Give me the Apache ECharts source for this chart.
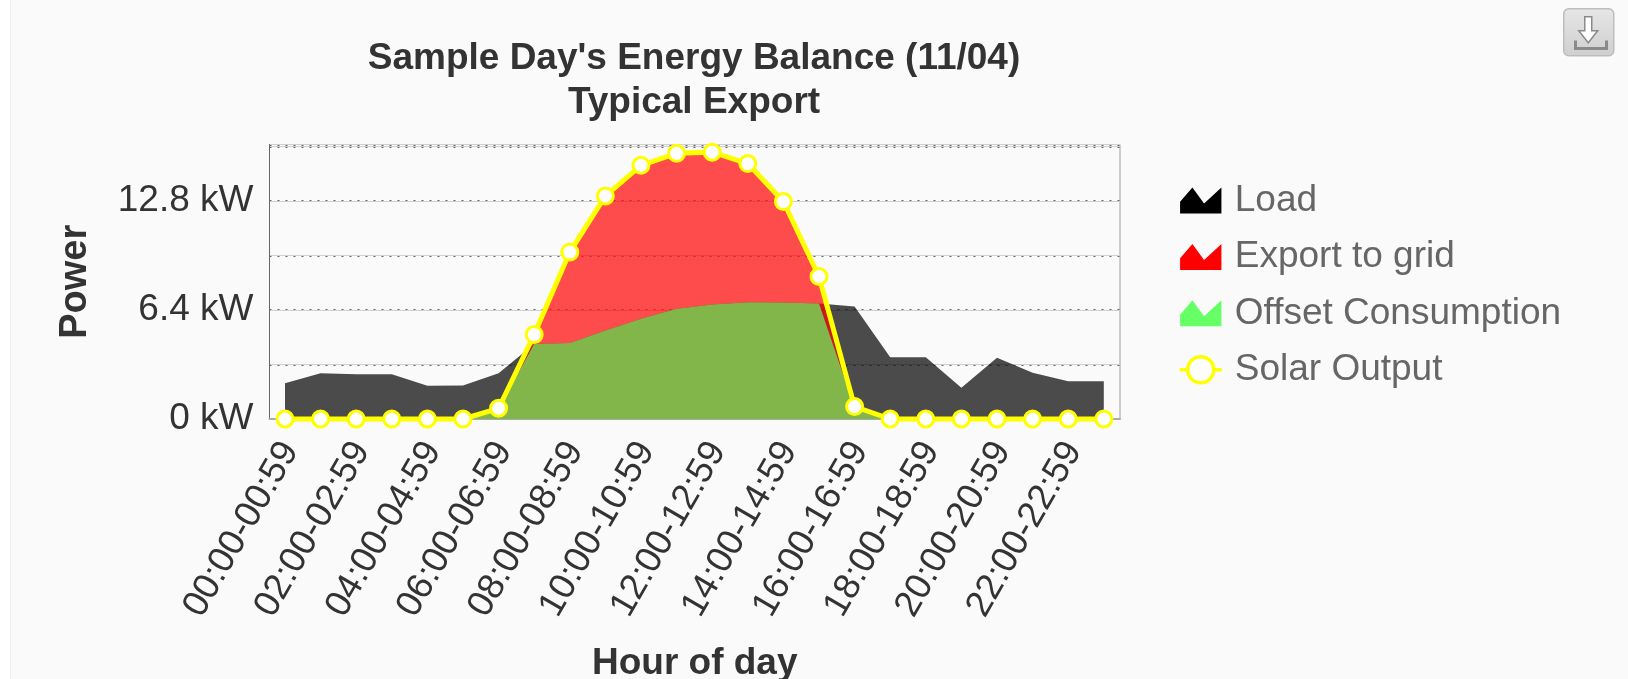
<!DOCTYPE html>
<html><head><meta charset="utf-8">
<script src="https://cdn.jsdelivr.net/npm/echarts@6/dist/echarts.min.js"></script>
<style>
html,body{margin:0;padding:0;background:#fff;width:1628px;height:679px;overflow:hidden}
#bg{position:absolute;left:10px;top:0;right:0;bottom:0;background:#fafafa;border-left:1px solid #eeeeee}
#chart{position:absolute;left:0;top:0;width:1628px;height:679px}
</style></head><body><div id="bg"></div><div id="chart"></div>
<script>
const categories = ["00:00-00:59","01:00-01:59","02:00-02:59","03:00-03:59","04:00-04:59","05:00-05:59","06:00-06:59","07:00-07:59","08:00-08:59","09:00-09:59","10:00-10:59","11:00-11:59","12:00-12:59","13:00-13:59","14:00-14:59","15:00-15:59","16:00-16:59","17:00-17:59","18:00-18:59","19:00-19:59","20:00-20:59","21:00-21:59","22:00-22:59","23:00-23:59"];
const load   = [2.1,2.69,2.63,2.63,1.95,1.97,2.69,4.41,4.47,5.2,5.88,6.47,6.72,6.86,6.84,6.78,6.6,3.63,3.63,1.83,3.59,2.71,2.22,2.22];
const solar  = [0,0,0,0,0,0,0.63,4.96,9.8,13.1,14.9,15.6,15.67,15.0,12.77,8.37,0.73,0,0,0,0,0,0,0];
const offset = [0,0,0,0,0,0,0.6,4.41,4.47,5.2,5.88,6.47,6.72,6.86,6.84,6.78,0.65,0,0,0,0,0,0,0];
const xTickValues = [0,2,4,6,8,10,12,14,16,18,20,22];
const yTickValues = [0,6.4,12.8];
const seriesNames = ["Load","Export to grid","Offset Consumption","Solar Output"];
const titleLines = ["Sample Day's Energy Balance (11/04)","Typical Export"];

const font = "'Liberation Sans', Arial, sans-serif";
const pts = a => a.map((v,i)=>[i,v]);
const icon = 'path://M0,78 L0,43 L37,0 L72,48 L124,0 L124,78 Z';
const solarIcon = 'path://M8,13 A13,13 0 1 1 34,13 A13,13 0 1 1 8,13 Z M0,13 L8,13 Z M34,13 L42,13 Z';
const chart = echarts.init(document.getElementById('chart'));
chart.setOption({
  animation:false,
  title:{text:titleLines.join('\n'),left:689,top:32,textAlign:'center',
    textStyle:{fontFamily:font,fontSize:37,fontWeight:'bold',color:'#333',lineHeight:44}},
  grid:{left:269.5,top:144.5,width:850.5,height:274.5,outerBoundsMode:'none',show:true,borderColor:'#a0a0a0',borderWidth:1,backgroundColor:'transparent'},
  legend:{orient:'vertical',left:1173,top:177,itemWidth:42,itemHeight:26,itemGap:19.4,
    textStyle:{fontFamily:font,fontSize:37,color:'#666',padding:[0,0,0,8]},
    data:[
      {name:seriesNames[0],icon:icon,itemStyle:{color:'#000',opacity:1}},
      {name:seriesNames[1],icon:icon,itemStyle:{color:'#ff0000',opacity:1}},
      {name:seriesNames[2],icon:icon,itemStyle:{color:'#66ff66',opacity:1}},
      {name:seriesNames[3],icon:solarIcon,itemStyle:{color:'#fff',borderColor:'#ffff00',borderWidth:3.5}}
    ]},
  xAxis:{type:'value',min:-0.435,max:23.455,name:'Hour of day',nameLocation:'middle',nameGap:226,
    nameTextStyle:{fontFamily:font,fontSize:37,fontWeight:'bold',color:'#333'},
    axisLine:{show:true,onZero:false,lineStyle:{color:'#aaa',width:2}},axisTick:{show:false},splitLine:{show:false},
    axisLabel:{customValues:xTickValues,rotate:60,margin:23,verticalAlign:'top',lineHeight:12,fontFamily:font,fontSize:36.5,color:'#333',
      formatter:v=>categories[v]||''}},
  yAxis:[{type:'value',min:0,max:16.12,interval:3.2,name:'Power',nameLocation:'middle',nameGap:175,
    nameTextStyle:{fontFamily:font,fontSize:38,fontWeight:'bold',color:'#333'},
    axisLine:{show:true,onZero:false,lineStyle:{color:'#666',width:1}},axisTick:{show:false},
    splitLine:{show:true,lineStyle:{type:[2,6],color:'#666',width:2}},
    axisLabel:{customValues:yTickValues,margin:16,fontFamily:font,fontSize:37,color:'#333',formatter:v=>v+' kW'}},
   {type:'value',min:0,max:16.12,interval:3.2,position:'left',axisLine:{show:false},axisTick:{show:false},axisLabel:{show:false},
    splitLine:{show:true,lineStyle:{type:'solid',color:'#cfcfcf',width:1}}}],
  graphic:[
    {type:'rect',left:1563,top:8,shape:{width:50,height:47,r:5},
      style:{fill:new echarts.graphic.LinearGradient(0,0,0,1,[{offset:0,color:'#e6e6e6'},{offset:1,color:'#cfcfcf'}]),stroke:'#bdbdbd',lineWidth:1.5}},
    {type:'polygon',left:1578,top:16,shape:{points:[[7,0],[14,0],[14,14],[20,14],[10.5,26],[1,14],[7,14]]},
      style:{fill:'#fff',stroke:'#8a8a8a',lineWidth:1.5}},
    {type:'polyline',left:1573,top:38,shape:{points:[[0,0],[0,8],[31,8],[31,0]]},style:{fill:'none',stroke:'#8a8a8a',lineWidth:3}}
  ],
  series:[
    {name:seriesNames[0],type:'line',data:pts(load),symbol:'none',lineStyle:{width:0},areaStyle:{color:'#000',opacity:0.7},itemStyle:{color:'#000'},z:2},
    {name:seriesNames[1],type:'line',data:pts(solar),symbol:'none',lineStyle:{width:0},areaStyle:{color:'#ff0000',opacity:0.7},itemStyle:{color:'#ff0000'},z:3},
    {name:seriesNames[2],type:'line',data:pts(offset),symbol:'none',lineStyle:{width:0},areaStyle:{color:'#82b64a',opacity:1},itemStyle:{color:'#66ff66'},z:4},
    {name:seriesNames[3],type:'line',data:pts(solar),clip:false,symbol:'circle',symbolSize:16,showAllSymbol:true,
      lineStyle:{color:'#ffff00',width:5},itemStyle:{color:'#fff',borderColor:'#ffff00',borderWidth:3},z:5}
  ]
});
</script></body></html>
